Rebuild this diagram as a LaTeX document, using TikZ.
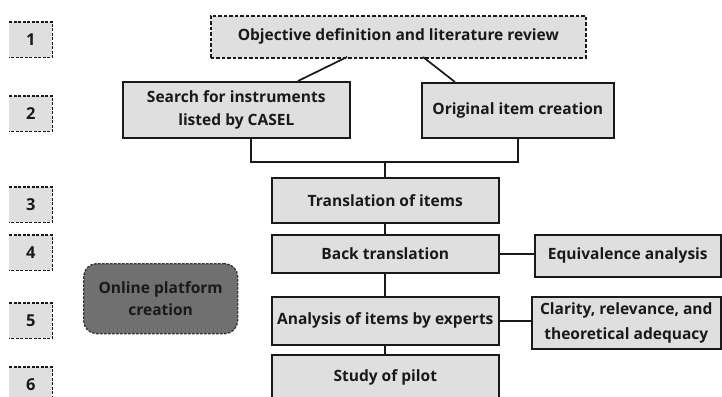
\documentclass[tikz,border=0pt]{standalone}
\usepackage{fontspec}
\setmainfont{Open Sans}
\definecolor{boxgray}{RGB}{223,223,223}
\definecolor{darkbox}{RGB}{112,112,112}
\definecolor{ink}{RGB}{25,25,25}
\begin{document}
\begin{tikzpicture}[x=1bp,y=-1bp,
  box/.style={draw=ink, line width=1.6bp, fill=boxgray, align=center, inner sep=0pt,
    anchor=north west, font=\bfseries\fontsize{15.6}{23}\selectfont, text=ink},
  dbox/.style={box, dash pattern=on 3.5bp off 2bp},
  numbox/.style={fill=boxgray, inner sep=0pt, anchor=north west, minimum width=43bp,
    minimum height=35bp, font=\bfseries\fontsize{16.5}{18}\selectfont, text=ink},
  numedge/.style={draw=ink, line width=1.2bp, dash pattern=on 3bp off 1.5bp},
  link/.style={draw=ink, line width=1.7bp}]
\useasboundingbox (0,0) rectangle (722,396);

% step numbers
\foreach \n/\y in {1/22,2/96,3/187,4/235,5/303,6/367}{
  \node[numbox] (n\n) at (9,\y) {\n};
  \draw[numedge] (n\n.north west) -- (n\n.north east) -- (n\n.south east) -- (n\n.south west);
}

% main boxes
\node[dbox, minimum width=375bp, minimum height=42bp] (obj) at (210,15) {Objective definition and literature review};
\node[box, minimum width=227bp, minimum height=56bp] (search) at (122,81) {Search for instruments\\listed by CASEL};
\node[box, minimum width=192bp, minimum height=55bp] (orig) at (421,82) {Original item creation};
\node[box, minimum width=227bp, minimum height=45bp] (trans) at (271,177) {Translation of items};
\node[box, minimum width=227bp, minimum height=38bp] (back) at (271,234) {Back translation};
\node[box, minimum width=186bp, minimum height=42bp] (equiv) at (534,234) {Equivalence analysis};
\node[box, minimum width=227bp, minimum height=48bp] (anal) at (271,296) {Analysis of items by experts};
\node[box, minimum width=189bp, minimum height=52bp, font=\bfseries\fontsize{15.6}{25}\selectfont] (clar) at (531,296) {Clarity, relevance, and\\theoretical adequacy};
\node[box, minimum width=227bp, minimum height=46bp] (pilot) at (271,354) {Study of pilot};
\node[box, draw=ink!90, fill=darkbox, rounded corners=13bp, dash pattern=on 2.5bp off 1.5bp, line width=1.3bp,
  minimum width=154bp, minimum height=70bp, font=\bfseries\fontsize{15.6}{22}\selectfont] (online) at (83,263) {Online platform\\creation};

% connectors
\coordinate (oa) at (347,57);
\coordinate (sa) at (298,81);
\coordinate (ob) at (423,57);
\coordinate (ra) at (455,82);
\draw[link] (oa) -- (sa);
\draw[link] (ob) -- (ra);
\coordinate (sb) at (251,137);
\coordinate (rb) at (518,137);
\coordinate (jn) at (385,162);
\draw[link] (sb) |- (jn) -| (rb);
\draw[link] (jn) -- (jn |- trans.north);
\draw[link] (trans.south -| jn) -- (back.north -| jn);
\draw[link] (back.east) -- (equiv.west |- back.east);
\draw[link] (back.south -| jn) -- (anal.north -| jn);
\draw[link] (anal.east) -- (clar.west |- anal.east);
\draw[link] (anal.south -| jn) -- (pilot.north -| jn);
\end{tikzpicture}
\end{document}
